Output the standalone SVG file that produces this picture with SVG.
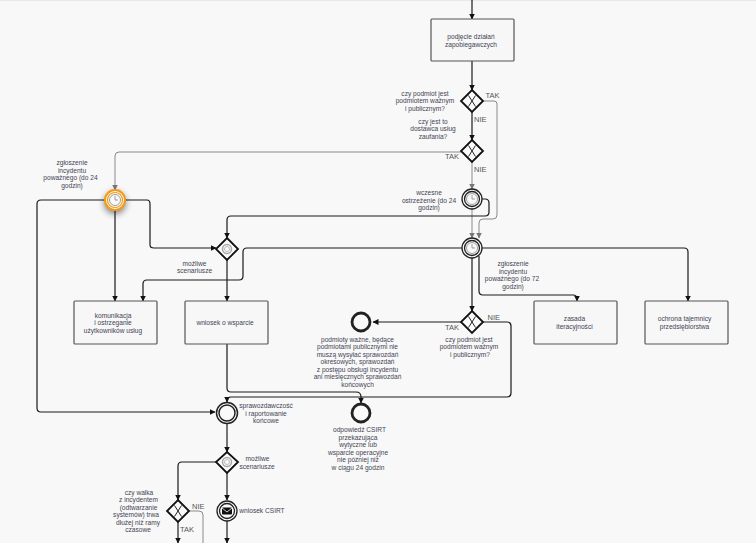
<svg xmlns="http://www.w3.org/2000/svg" width="756" height="543" viewBox="0 0 756 543">
<style>
text{font-family:"Liberation Sans",Arial,sans-serif;font-size:6.600px;fill:#444455;text-anchor:middle}
text.lb{font-size:7.500px;fill:#555;text-anchor:start}
.c{fill:none;stroke:#1a1a1a;stroke-width:1.200;marker-end:url(#a)}
.d{fill:none;stroke:#4a4a4a;stroke-width:1.500;marker-end:url(#a)}
.g{fill:none;stroke:#8a8a8a;stroke-width:1;marker-end:url(#g)}
.t{fill:#f7f7f7;stroke:#555;stroke-width:1.200}
.gw{fill:#fafafa;stroke:#111;stroke-width:1.800}
.x{fill:none;stroke:#222;stroke-width:1}
.e{fill:#fafafa;stroke:#222;stroke-width:1.300}
.end{fill:#fafafa;stroke:#222;stroke-width:2.800}
.clk{fill:none;stroke:#777;stroke-width:.7}
</style>
<defs>
<marker id="a" markerWidth="7" markerHeight="7" refX="5.500" refY="3" orient="auto" markerUnits="userSpaceOnUse"><path d="M0 0L6 3L0 6Z" fill="#111"/></marker>
<marker id="g" markerWidth="7" markerHeight="7" refX="5.500" refY="3" orient="auto" markerUnits="userSpaceOnUse"><path d="M0 0L6 3L0 6Z" fill="#777"/></marker>
<filter id="s" x="-100%" y="-100%" width="300%" height="300%"><feGaussianBlur stdDeviation="3"/></filter>
</defs>
<rect width="756" height="543" fill="#f8f8f8"/>
<rect width="756" height="1" fill="#e8e8e8"/>
<g id="connectors">
<path class="c" d="M472 0V19"/>
<path class="c" d="M472 61V90"/>
<path class="c" d="M472 112V140"/>
<path class="g" d="M483 101H494Q497 101 497 104V215Q497 219 493 219H483Q479 219 479 223V238"/>
<path class="g" d="M461 152H119Q115 152 115 156V190"/>
<path class="g" d="M472 162V189"/>
<path class="g" d="M472 209V238"/>
<path class="c" d="M482 199H485Q489 199 489 203V212Q489 216 485 216H231Q227 216 227 220V238"/>
<path class="c" d="M125 200H147Q150 200 150 204V245Q150 248 154 248H216"/>
<path class="c" d="M105 200H41Q37 200 37 204V408Q37 412 41 412H215"/>
<path class="c" d="M115 210V301"/>
<path class="d" d="M227 260V301"/>
<path class="c" d="M462 248H247Q243 248 243 252V276Q243 280 239 280H147Q143 280 143 284V301"/>
<path class="c" d="M482 248H684Q688 248 688 252V301"/>
<path class="c" d="M479 256V291Q479 295 483 295H573Q577 295 577 299V301"/>
<path class="c" d="M472 258V311"/>
<path class="c" d="M461 322H373"/>
<path class="c" d="M483 322H507Q511 322 511 326V393Q511 397 507 397H231Q227 397 227 401V402"/>
<path class="c" d="M227 344V388Q227 392 231 392H356Q361 392 361 397V403"/>
<path class="d" d="M227 424V452"/>
<path class="c" d="M216 462H182Q178 462 178 466V500"/>
<path class="d" d="M227 473V500"/>
<path class="d" d="M227 521V543"/>
<path class="d" d="M178 522V543"/>
<path d="M189 511H199Q203 511 203 515V543" fill="none" stroke="#8a8a8a"/>
</g>
<g id="task1"><rect class="t" x="431" y="19" width="83" height="42" rx="1"/><text x="471" y="39">podjęcie działań</text><text x="471" y="46.500">zapobiegawczych</text></g>
<g id="gw1"><path class="gw" d="M472 90L483 101L472 112L461 101Z"/><path class="x" d="M468.500 95.500L475.500 106.500M475.500 95.500L468.500 106.500"/>
<text x="425" y="95.500">czy podmiot jest</text><text x="425" y="103">podmiotem ważnym</text><text x="425" y="110.500">i publicznym?</text><text class="lb" x="485.500" y="98">TAK</text><text class="lb" x="474" y="122">NIE</text></g>
<g id="gw2"><path class="gw" d="M472 140L483 151L472 162L461 151Z"/><path class="x" d="M468.500 145.500L475.500 156.500M475.500 145.500L468.500 156.500"/>
<text x="433" y="123.500">czy jest to</text><text x="433" y="131">dostawca usług</text><text x="433" y="138.500">zaufania?</text><text class="lb" x="445" y="159">TAK</text><text class="lb" x="474" y="172">NIE</text></g>
<g id="e-orange">
<circle cx="115" cy="203" r="11" fill="#222" opacity=".55" filter="url(#s)"/>
<circle cx="115" cy="200" r="10" fill="#fafafa" stroke="#f59a14" stroke-width="2"/><circle cx="115" cy="200" r="7.500" fill="#fafafa" stroke="#f59a14" stroke-width="1.200"/>
<circle cx="115" cy="200" r="5.500" class="clk"/><path class="clk" d="M115 196V200H118"/>
<text x="72" y="165">zgłoszenie</text><text x="72" y="172.500">incydentu</text><text x="70.500" y="180">poważnego (do 24</text><text x="72" y="187.500">godzin)</text></g>
<g id="e-early"><circle class="e" cx="472" cy="199" r="10"/><circle class="e" cx="472" cy="199" r="7.500"/><circle class="clk" cx="472" cy="199" r="5.500"/><path class="clk" d="M472 195V199H475"/>
<text x="429" y="195">wczesne</text><text x="429" y="202.500">ostrzeżenie (do 24</text><text x="429" y="210">godzin)</text></g>
<g id="e-72"><circle class="e" cx="472" cy="248" r="10"/><circle class="e" cx="472" cy="248" r="7.500"/><circle class="clk" cx="472" cy="248" r="5.500"/><path class="clk" d="M472 244V248H475"/>
<text x="513" y="266">zgłoszenie</text><text x="513" y="273.500">incydentu</text><text x="512" y="281">poważnego (do 72</text><text x="513" y="288.500">godzin)</text></g>
<g id="gw-scen1"><path class="gw" d="M227 238L238 249L227 260L216 249Z"/><circle cx="227" cy="249" r="4.500" fill="none" stroke="#aaa" stroke-width="1.500"/><circle cx="227" cy="249" r="2.500" fill="none" stroke="#bbb"/>
<text x="194.500" y="265.500">możliwe</text><text x="194.500" y="273">scenariusze</text></g>
<g id="task-kom"><rect class="t" x="74" y="301" width="83" height="43" rx="1"/><text x="113" y="317.500">komunikacja</text><text x="113" y="325">i ostrzeganie</text><text x="113" y="332.500">użytkowników usług</text></g>
<g id="task-wn"><rect class="t" x="185" y="301" width="83" height="43" rx="1"/><text x="225" y="325">wniosek o wsparcie</text></g>
<g id="task-zas"><rect class="t" x="534" y="301" width="83" height="43" rx="1"/><text x="574.500" y="320.500">zasada</text><text x="574.500" y="328.500">iteracyjności</text></g>
<g id="task-och"><rect class="t" x="645" y="301" width="83" height="43" rx="1"/><text x="684.500" y="320.500">ochrona tajemnicy</text><text x="684.500" y="328.500">przedsiębiorstwa</text></g>
<g id="gw3"><path class="gw" d="M472 311L483 322L472 333L461 322Z"/><path class="x" d="M468.500 316.500L475.500 327.500M475.500 316.500L468.500 327.500"/>
<text class="lb" x="445" y="330">TAK</text><text class="lb" x="487.500" y="319.500">NIE</text>
<text x="469" y="341.500">czy podmiot jest</text><text x="469" y="349">podmiotem ważnym</text><text x="470" y="356.500">i publicznym?</text></g>
<g id="end1"><circle class="end" cx="361" cy="322" r="9"/>
<text x="357.500" y="341.500">podmioty ważne, będące</text><text x="357.500" y="349">podmiotami publicznymi nie</text><text x="357.500" y="356.500">muszą wysyłać sprawozdań</text><text x="357.500" y="364">okresowych, sprawozdań</text><text x="357.500" y="371.500">z postępu obsługi incydentu</text><text x="357.500" y="379">ani miesięcznych sprawozdań</text><text x="357.500" y="386.500">końcowych</text></g>
<g id="end2"><circle class="end" cx="361" cy="413" r="9"/>
<text x="359.500" y="432">odpowiedź CSIRT</text><text x="358" y="439.500">przekazująca</text><text x="358" y="447">wytyczne lub</text><text x="358" y="454.500">wsparcie operacyjne</text><text x="358" y="462">nie później niż</text><text x="358" y="469.500">w ciągu 24 godzin</text></g>
<g id="e-spr"><circle class="end" style="stroke-width:1.500" cx="227" cy="413" r="10.500"/><circle cx="227" cy="413" r="8" fill="#fafafa" stroke="#222" stroke-width="1.500"/>
<text x="266" y="408">sprawozdawczość</text><text x="266" y="415.500">i raportowanie</text><text x="266" y="423">końcowe</text></g>
<g id="gw-scen2"><path class="gw" d="M227 452L238 462L227 473L216 462Z"/><circle cx="227" cy="462" r="4.500" fill="none" stroke="#aaa" stroke-width="1.500"/><circle cx="227" cy="462" r="2.500" fill="none" stroke="#bbb"/>
<text x="257.500" y="461">możliwe</text><text x="257" y="468.500">scenariusze</text></g>
<g id="gw4"><path class="gw" d="M178 500L189 511L178 522L167 511Z"/><path class="x" d="M174.500 505.500L181.500 516.500M181.500 505.500L174.500 516.500"/>
<text x="139" y="494.500">czy walka</text><text x="138.500" y="502">z incydentem</text><text x="138.500" y="509.500">(odtwarzanie</text><text x="136" y="517">systemów) trwa</text><text x="138" y="524.500">dłużej niż ramy</text><text x="138" y="532">czasowe</text>
<text class="lb" x="192" y="509">NIE</text><text class="lb" x="180" y="532">TAK</text></g>
<g id="e-msg"><circle class="e" cx="227" cy="511" r="10"/><circle class="e" cx="227" cy="511" r="7.500"/><rect x="222" y="507.500" width="10" height="7" rx="1" fill="#111"/><path d="M222 508L227 512L232 508" fill="none" stroke="#fafafa" stroke-width=".8"/>
<text x="262" y="513">wniosek CSIRT</text></g>
</svg>
